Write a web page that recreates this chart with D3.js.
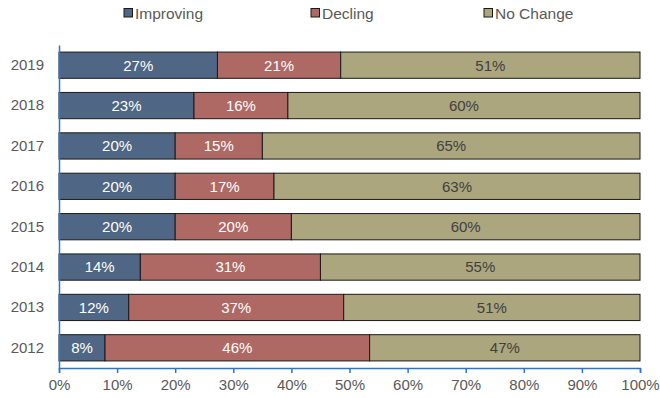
<!DOCTYPE html>
<html>
<head>
<meta charset="utf-8">
<script src="https://cdn.jsdelivr.net/npm/d3@7/dist/d3.min.js"></script>
<style>
  html, body { margin: 0; padding: 0; background: #fff; }
  svg { display: block; font-family: "Liberation Sans", Arial, sans-serif; }
</style>
</head>
<body>
<svg id="chart" width="660" height="398"></svg>
<script>
// Survey results per year (percent of respondents)
const years = ["2019", "2018", "2017", "2016", "2015", "2014", "2013", "2012"];
const improving = [27, 23, 20, 20, 20, 14, 12, 8];
const declining = [21, 16, 15, 17, 20, 31, 37, 46];
const noChange = [51, 60, 65, 63, 60, 55, 51, 47];
const seriesNames = ["Improving", "Decling", "No Change"];
const xTicks = [0, 0.1, 0.2, 0.3, 0.4, 0.5, 0.6, 0.7, 0.8, 0.9, 1];

const colors = ["#4f6684", "#ae6965", "#aca67e"];
const labelColors = ["#ffffff", "#ffffff", "#404040"];
const FONT = "Liberation Sans, Arial, sans-serif";

const svg = d3.select("#chart");
const margin = { left: 59, top: 45 };

const rows = years.map((y, i) => ({
  year: y, s0: improving[i], s1: declining[i], s2: noChange[i]
}));

// Each year is scaled to fill the full 0–100% width
const stack = d3.stack().keys(["s0", "s1", "s2"]).offset(d3.stackOffsetExpand);
const layers = stack(rows);

const x = d3.scaleLinear().domain([0, 1]).range([margin.left, 640]);
const y = d3.scaleBand().domain(years).range([margin.top, 368]).paddingInner(0.35).paddingOuter(0.175);

// Bars and their value labels
const g = svg.append("g");
layers.forEach((layer, k) => {
  g.selectAll(null).data(layer).enter().append("rect")
    .attr("x", d => x(d[0]))
    .attr("y", d => y(d.data.year))
    .attr("width", d => x(d[1]) - x(d[0]))
    .attr("height", y.bandwidth())
    .attr("fill", colors[k])
    .attr("stroke", "#1a1a1a")
    .attr("stroke-width", 1);
  g.selectAll(null).data(layer).enter().append("text")
    .attr("x", d => (x(d[0]) + x(d[1])) / 2)
    .attr("y", d => y(d.data.year) + y.bandwidth() / 2)
    .attr("dy", "0.36em")
    .attr("text-anchor", "middle")
    .attr("font-size", 15)
    .attr("font-family", FONT)
    .attr("fill", labelColors[k])
    .text(d => d.data["s" + k] + "%");
});

// X axis
const xAxis = svg.append("g")
  .attr("transform", `translate(0,368)`)
  .call(d3.axisBottom(x).tickValues(xTicks).tickFormat(d3.format(".0%")).tickSize(5).tickSizeOuter(5));
xAxis.select(".domain").attr("stroke", "#2e75c8").attr("stroke-width", 1.5);
xAxis.selectAll(".tick line").attr("stroke", "#2e75c8").attr("stroke-width", 1.5);
xAxis.selectAll(".tick text").attr("font-size", 15).attr("fill", "#595959")
  .attr("font-family", FONT).attr("dy", "0.95em");

// Y axis
const yAxis = svg.append("g")
  .attr("transform", `translate(${margin.left},0)`)
  .call(d3.axisLeft(y).tickSize(0).tickSizeOuter(0).tickPadding(15));
yAxis.select(".domain").attr("stroke", "#2e75c8").attr("stroke-width", 1.5);
yAxis.selectAll(".tick text").attr("font-size", 15).attr("fill", "#595959")
  .attr("font-family", FONT);

// Legend
const legendX = [124, 311, 484];
const legend = svg.append("g");
seriesNames.forEach((name, k) => {
  legend.append("rect")
    .attr("x", legendX[k]).attr("y", 8.5).attr("width", 8.5).attr("height", 8.5)
    .attr("fill", colors[k]).attr("stroke", "#1a1a1a").attr("stroke-width", 1);
  legend.append("text")
    .attr("x", legendX[k] + 11).attr("y", 13).attr("dy", "0.36em")
    .attr("font-size", 15.5).attr("font-family", FONT).attr("fill", "#595959")
    .text(name);
});
</script>
</body>
</html>
